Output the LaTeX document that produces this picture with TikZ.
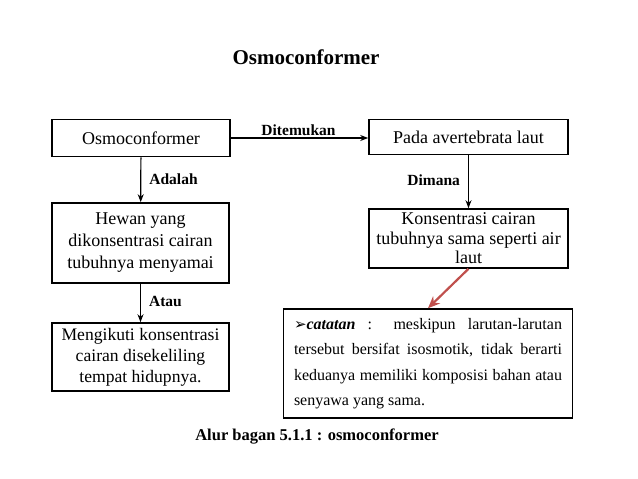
\documentclass[tikz,border=0pt]{standalone}
\usepackage{fontspec}
\setmainfont{Liberation Serif}
\newfontfamily\symfont{DejaVu Sans}
\usepackage{tikz}
\usetikzlibrary{positioning,arrows.meta}
\usepackage{xcolor}
\definecolor{notered}{RGB}{192,80,77}

\begin{document}
\begin{tikzpicture}[x=1pt,y=-1pt,
    box/.style={draw, line width=1.6pt, inner sep=0pt, align=center, font=\fontsize{18}{22}\selectfont},
    flow/.style={-{Stealth[length=8pt,width=6pt]}, line width=1.2pt},
    lbl/.style={font=\fontsize{15.5}{18}\selectfont\bfseries, inner sep=2pt}]
            \useasboundingbox (0,0) rectangle (638,479);
            \node[font=\fontsize{21}{24}\selectfont\bfseries] (title) at (306,57) {Osmoconformer};
            \node[box, minimum width=178pt, minimum height=37pt] (osmo) at (141,138) {Osmoconformer};
            \node[box, minimum width=199pt, minimum height=35pt] (pada) at (468.5,137) {Pada avertebrata laut};
            \node[box, minimum width=177pt, minimum height=80pt] (hewan) at (140.5,243) {Hewan yang\\ dikonsentrasi cairan\\ tubuhnya menyamai};
            \node[box, minimum width=199pt, minimum height=59pt, font=\fontsize{18}{19.5}\selectfont] (konsen) at (468.5,238.5) {Konsentrasi cairan\\ tubuhnya sama seperti air\\ laut};
            \node[box, minimum width=177pt, minimum height=68pt, font=\fontsize{17.6}{21}\selectfont] (ikut) at (140.5,357) {Mengikuti konsentrasi\\ cairan disekeliling\\ tempat hidupnya.};
            \node[box, minimum width=289pt, minimum height=109pt, text width=268pt, align=justify, font=\fontsize{16}{25.5}\selectfont] (catatan) at (428,363.5)
                {\hyphenpenalty=10000 {\symfont\fontsize{15}{15}\selectfont ➢}\textbf{\textit{catatan}} : meskipun larutan-larutan\linebreak tersebut bersifat isosmotik, tidak berarti\linebreak keduanya memiliki komposisi bahan atau\linebreak senyawa yang sama.};
            \node[font=\fontsize{16.5}{20}\selectfont\bfseries] (caption) at (317,437) {Alur bagan 5.1.1 : osmoconformer};
            % connectors
            \draw[flow] (osmo.east) -- node[lbl, above, xshift=-1pt] {Ditemukan} (osmo.east -| pada.west);
            \draw[flow] (osmo) -- node[lbl, right, xshift=6pt, yshift=1pt] {Adalah} (hewan);
            \draw[flow] (pada) -- node[lbl, left, xshift=-6pt, yshift=2pt] {Dimana} (konsen);
            \draw[flow] (hewan) -- node[lbl, right, xshift=6pt, yshift=2pt] {Atau} (ikut);
            \draw[-{Stealth[length=12pt,width=10pt]}, line width=2.2pt, notered] (konsen.south) -- (catatan.north);
        \end{tikzpicture}
\end{document}
